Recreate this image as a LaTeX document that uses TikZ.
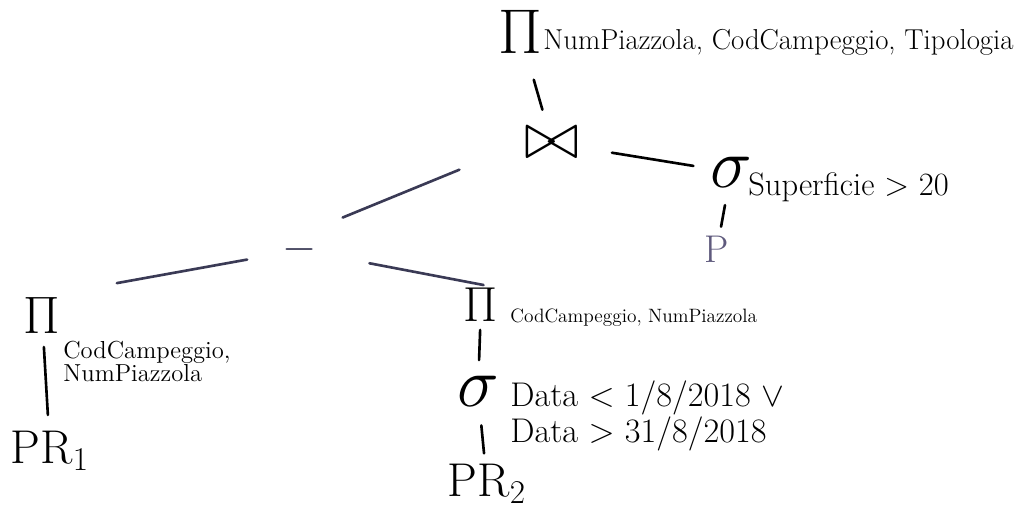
\RequirePackage{fix-cm}
\documentclass[tikz,border=0pt]{standalone}
\usepackage{tikz}
\usetikzlibrary{calc}

\definecolor{pencil}{HTML}{3A3A55}
\definecolor{lightpencil}{HTML}{5F5A7D}

\begin{document}
\begin{tikzpicture}[x=0.02cm, y=-0.02cm,
    op/.style={inner sep=0pt, font=\fontsize{30}{32}\selectfont},
    sub/.style={inner sep=0pt, anchor=west, align=left},
    rel/.style={inner sep=0pt, font=\fontsize{27}{29}\selectfont},
    link/.style={line width=1.5pt, line cap=round}]
    \useasboundingbox (0, 0) rectangle (1027, 512);

    %Nodes
    \node[op, font=\fontsize{36}{38}\selectfont] at (520, 32) (pitop) {$\Pi$};
    \node[sub, font=\fontsize{16.4}{18}\selectfont] at (543, 42) (pitopsub) {NumPiazzola, CodCampeggio, Tipologia};
    \node[op, font=\fontsize{38}{40}\selectfont] at (552, 143) (join) {$\bowtie$};
    \node[op, font=\fontsize{40}{42}\selectfont] at (731, 172) (sigtop) {$\sigma$};
    \node[sub, font=\fontsize{18.5}{20}\selectfont] at (748, 187) (sigtopsub) {Superficie $>$ 20};
    \node[rel, text=lightpencil, font=\fontsize{22}{24}\selectfont] at (717, 249) (p) {P};
    \node[op, text=pencil, font=\fontsize{25}{27}\selectfont] at (300, 250) (minus) {$-$};
    \node[op] at (42, 315) (pil) {$\Pi$};
    \node[sub, anchor=north west, font=\fontsize{14}{13}\selectfont] at (63, 341) (pilsub) {CodCampeggio,\\NumPiazzola};
    \node[rel] at (50, 451) (prl) {PR$_1$};
    \node[op, font=\fontsize{28}{30}\selectfont] at (481, 305) (pir) {$\Pi$};
    \node[sub, font=\fontsize{11}{13}\selectfont] at (510, 318) (pirsub) {CodCampeggio, NumPiazzola};
    \node[op, font=\fontsize{40}{42}\selectfont] at (478, 391) (sigr) {$\sigma$};
    \node[sub, font=\fontsize{19.5}{16}\selectfont] at (510, 416) (sigrsub) {Data $<$ 1/8/2018 $\vee$\\Data $>$ 31/8/2018};
    \node[rel] at (487, 484) (prr) {PR$_2$};

    %Lines
    \draw[link] ($(pitop)!0.43!(join)$) -- ($(pitop)!0.70!(join)$);
    \draw[link] ($(join)!0.335!(sigtop)$) -- ($(join)!0.79!(sigtop)$);
    \draw[link] ($(sigtop)!0.43!(p)$) -- ($(sigtop)!0.71!(p)$);
    \draw[link, pencil] ($(join.west)!0.29!(minus.north)$) -- ($(join.west)!0.81!(minus.north)$);
    \draw[link, pencil] ($(minus)!0.205!(pil.north)$) -- ($(minus)!0.71!(pil.north)$);
    \draw[link, pencil] ($(minus)!0.35!(pir.north east)$) -- ($(minus)!0.925!(pir.north east)$);
    \draw[link] ($(pil)!0.235!(prl)$) -- ($(pil)!0.735!(prl)$);
    \draw[link] ($(pir)!0.29!(sigr)$) -- ($(pir)!0.64!(sigr)$);
    \draw[link] ($(sigr)!0.37!(prr)$) -- ($(sigr)!0.67!(prr)$);

\end{tikzpicture}
\end{document}
